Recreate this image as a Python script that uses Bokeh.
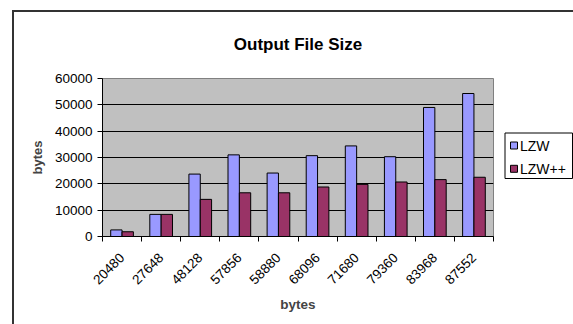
import numpy as np
from math import pi
from bokeh.plotting import figure
from bokeh.layouts import row
from bokeh.core.properties import value
from bokeh.models import (ColumnDataSource, Range1d, FixedTicker, NumeralTickFormatter,
                          LinearAxis, Grid)
from bokeh.embed import file_html
from bokeh.resources import INLINE

categories = ["20480", "27648", "48128", "57856", "58880", "68096", "71680", "79360", "83968", "87552"]
lzw = [2500, 8400, 23700, 31000, 24100, 30700, 34400, 30300, 49000, 54300]
lzwpp = [1800, 8400, 14100, 16600, 16600, 18800, 19800, 20700, 21600, 22500]
y_ticks = [0, 10000, 20000, 30000, 40000, 50000, 60000]
series_names = ["LZW", "LZW++"]
series_colors = ["#9999FF", "#993366"]
title_text = "Output File Size"
x_title = "bytes"
y_title = "bytes"

FONT = "Liberation Sans"
n = len(categories)
idx = np.arange(n)
bar_w = 0.29
src = ColumnDataSource(dict(x1=idx + 0.5 - bar_w / 2, x2=idx + 0.5 + bar_w / 2,
                            lzw=lzw, lzwpp=lzwpp))

MAIN_W = 496
p = figure(width=MAIN_W, height=324, output_backend="svg", toolbar_location=None,
           x_range=Range1d(0, n), y_range=Range1d(0, y_ticks[-1]),
           x_axis_type=None, y_axis_type=None,
           min_border_left=102, min_border_right=3, min_border_top=78, min_border_bottom=88)
p.background_fill_color = "#C0C0C0"
p.border_fill_color = "white"
p.border_fill_alpha = 0
p.outline_line_color = "#808080"
p.outline_line_width = 1
# outer chart-area frame (left and top edges; the rest lies off the picture)
p.styles = {
    "background": "linear-gradient(#333, #333) 12px 10px / 2px 100% no-repeat, "
                  "linear-gradient(#333, #333) 12px 10px / 100% 2px no-repeat, white"
}

# title
p.title.text = title_text
p.title.align = "center"
p.title.offset = -3
p.title.vertical_align = "top"
p.title.text_font = FONT
p.title.text_font_style = "bold"
p.title.text_font_size = "17px"
p.title.text_color = "black"
p.title.standoff = 46

# y axis
yticker = FixedTicker(ticks=y_ticks)
yaxis = LinearAxis(ticker=yticker, formatter=NumeralTickFormatter(format="0"))
yaxis.axis_label = y_title
yaxis.axis_label_text_font = FONT
yaxis.axis_label_text_font_style = "bold"
yaxis.axis_label_text_font_size = "13px"
yaxis.axis_label_standoff = 7
yaxis.major_label_text_font = FONT
yaxis.major_label_text_font_size = "13.5px"
yaxis.major_label_text_color = "black"
yaxis.major_label_standoff = 5
yaxis.major_tick_in = 0
yaxis.major_tick_out = 5
yaxis.minor_tick_line_color = None
yaxis.axis_line_color = "black"
yaxis.major_tick_line_color = "black"
p.add_layout(yaxis, "left")

# x axis: labels at category centres, ticks at category boundaries
label_pos = [float(i) + 0.5 for i in range(n)]
xticker = FixedTicker(ticks=label_pos, minor_ticks=[float(i) for i in range(n + 1)])
xaxis = LinearAxis(ticker=xticker)
xaxis.major_label_overrides = {pos: c for pos, c in zip(label_pos, categories)}
xaxis.major_label_orientation = pi / 4
xaxis.major_label_text_font = FONT
xaxis.major_label_text_font_size = "13.5px"
xaxis.major_label_text_color = "black"
xaxis.major_label_standoff = 14
xaxis.major_tick_in = 0
xaxis.major_tick_out = 0
xaxis.minor_tick_in = 0
xaxis.minor_tick_out = 5
xaxis.minor_tick_line_color = "black"
xaxis.axis_line_color = "black"
xaxis.axis_label = x_title
xaxis.axis_label_text_font = FONT
xaxis.axis_label_text_font_style = "bold"
xaxis.axis_label_text_font_size = "13.5px"
xaxis.axis_label_standoff = 6
p.add_layout(xaxis, "below")

p.add_layout(Grid(dimension=1, ticker=yticker, grid_line_color="black", grid_line_width=1))

p.vbar(x="x1", top="lzw", bottom=0, width=bar_w, source=src,
       fill_color=series_colors[0], line_color="black", line_width=1)
p.vbar(x="x2", top="lzwpp", bottom=0, width=bar_w, source=src,
       fill_color=series_colors[1], line_color="black", line_width=1)

# legend panel: a small axis-less figure to the right; its frame is aligned with the
# main frame, and its ranges are in pixels so the legend box is laid out in pixels
LW = 573 - MAIN_W
lf = figure(width=LW, height=324, output_backend="svg", toolbar_location=None,
            x_range=Range1d(0, LW), y_range=Range1d(0, 158),
            x_axis_type=None, y_axis_type=None,
            min_border=0, min_border_left=0, min_border_right=0,
            min_border_top=0, min_border_bottom=0)
lf.outline_line_color = None
lf.background_fill_alpha = 0
lf.border_fill_alpha = 0
lf.grid.visible = False
lf.styles = {
    "background": "linear-gradient(#333, #333) 0px 10px / 100% 2px no-repeat, white"
}

# legend box
lf.quad(left=[8.5], right=[76], bottom=[58], top=[103.5],
        fill_color="white", line_color="black", line_width=1)
item_y = [91, 67.7]
leg = ColumnDataSource(dict(x=[17.5] * len(series_names), tx=[23.5] * len(series_names),
                            y=item_y, name=series_names, color=series_colors))
lf.rect(x="x", y="y", width=7, height=7, width_units="screen", height_units="screen",
        source=leg, fill_color="color", line_color="black", line_width=1)
lf.text(x="tx", y="y", text="name", source=leg, text_font=value(FONT),
        text_font_size="14px", text_baseline="middle", text_align="left",
        text_color="black")

layout = row(p, lf, spacing=0)
open("out.html", "w").write(file_html(layout, INLINE))
